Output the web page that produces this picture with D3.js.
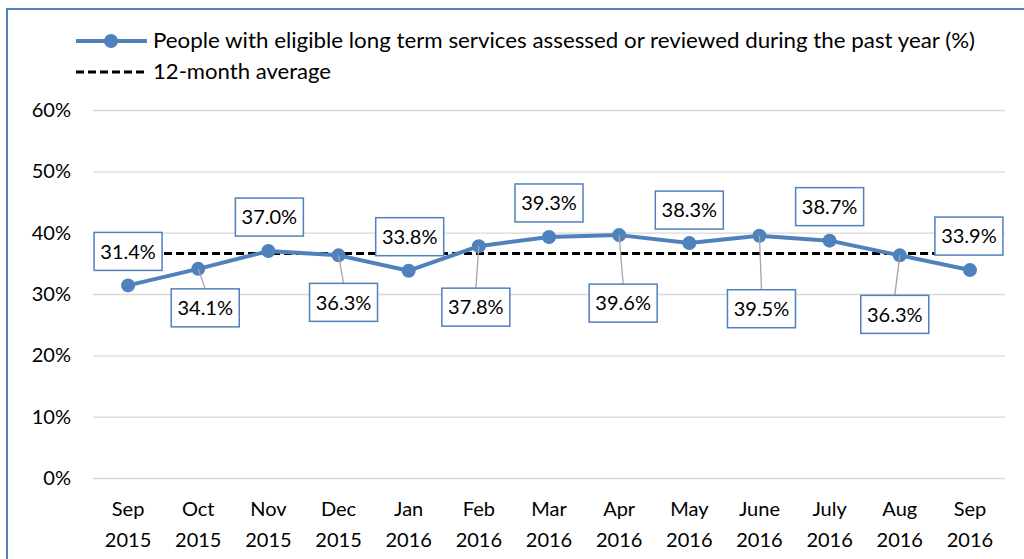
<!DOCTYPE html>
<html>
<head>
<meta charset="utf-8">
<script src="https://cdn.jsdelivr.net/npm/d3@7"></script>
<style>
  body { margin: 0; background: #fff; }
  svg text { font-family: Lato, "Open Sans", sans-serif; fill: #000; }
</style>
</head>
<body>
<script>
var months = ["Sep", "Oct", "Nov", "Dec", "Jan", "Feb", "Mar", "Apr", "May", "June", "July", "Aug", "Sep"];
var years = ["2015", "2015", "2015", "2015", "2016", "2016", "2016", "2016", "2016", "2016", "2016", "2016", "2016"];
var values = [31.4, 34.1, 37.0, 36.3, 33.8, 37.8, 39.3, 39.6, 38.3, 39.5, 38.7, 36.3, 33.9];
var average = 36.6;
var yTicks = [0, 10, 20, 30, 40, 50, 60];
var seriesName = "People with eligible long term services assessed or reviewed during the past year (%)";
var avgName = "12-month average";

// where each data label box sits relative to its point (layout only)
var labelOffset = [[0, -34], [7, 39], [1, -34], [5, 47], [1, -34], [-3, 61], [0, -34],
                   [4, 68], [0, -33], [2, 73], [0, -34], [-5, 59], [-1, -34]];

var W = 1024, H = 559;
var blue = "#4f81bd";
var margin = {top: 110, right: 19, bottom: 81, left: 93};

var svg = d3.select("body").append("svg").attr("width", W).attr("height", H);

// chart frame
svg.append("rect")
  .attr("x", 7).attr("y", 9)
  .attr("width", W + 10).attr("height", H + 10)
  .attr("fill", "#fff").attr("stroke", blue).attr("stroke-width", 2);

var width = W - margin.left - margin.right,
    height = H - margin.top - margin.bottom;

var x = d3.scaleBand().domain(d3.range(values.length)).range([0, width]),
    y = d3.scaleLinear().domain([0, 60]).range([height, 0]);

var g = svg.append("g").attr("transform", "translate(" + margin.left + "," + margin.top + ")");

// gridlines
g.append("g")
  .call(d3.axisLeft(y).tickValues(yTicks).tickSize(-width).tickFormat(""))
  .call(function(s) {
    s.select(".domain").remove();
    s.selectAll("line").attr("stroke", "#d9d9d9").attr("stroke-width", 1.3);
  });

// y labels
g.append("g")
  .call(d3.axisLeft(y).tickValues(yTicks).tickSize(0).tickPadding(22).tickFormat(function(d) { return d + "%"; }))
  .call(function(s) {
    s.select(".domain").remove();
    s.selectAll("text").style("font-size", "20px");
  });

// x labels
var xAxis = g.append("g")
  .attr("transform", "translate(0," + height + ")")
  .call(d3.axisBottom(x).tickSize(0).tickFormat(""));
xAxis.select(".domain").remove();
xAxis.selectAll(".tick").each(function(i) {
  var t = d3.select(this).append("text")
    .attr("text-anchor", "middle")
    .style("font-size", "20px");
  t.append("tspan").attr("x", 0).attr("y", 38).text(months[i]);
  t.append("tspan").attr("x", 0).attr("y", 69).text(years[i]);
});

var cx = function(i) { return x(i) + x.bandwidth() / 2; };

// 12-month average
g.append("line")
  .attr("x1", cx(0)).attr("x2", cx(values.length - 1))
  .attr("y1", y(average)).attr("y2", y(average))
  .attr("stroke", "#000").attr("stroke-width", 3)
  .attr("stroke-dasharray", "8,4");

// series line
var line = d3.line().x(function(d, i) { return cx(i); }).y(function(d) { return y(d); });
g.append("path")
  .datum(values)
  .attr("d", line)
  .attr("fill", "none").attr("stroke", blue).attr("stroke-width", 4)
  .attr("stroke-linejoin", "round");

g.selectAll(".dot")
  .data(values)
  .enter().append("circle")
  .attr("class", "dot")
  .attr("cx", function(d, i) { return cx(i); })
  .attr("cy", function(d) { return y(d); })
  .attr("r", 7)
  .attr("fill", blue);

// data labels with leader lines
var bw = 68, bh = 38;
var labels = g.selectAll(".lbl")
  .data(values)
  .enter().append("g")
  .attr("class", "lbl")
  .attr("transform", function(d, i) {
    return "translate(" + (cx(i) + labelOffset[i][0]) + "," + (y(d) + labelOffset[i][1]) + ")";
  });

labels.each(function(d, i) {
  var off = labelOffset[i];
  if (off[1] > bh / 2 + 14) {
    d3.select(this).append("line")
      .attr("x1", -off[0]).attr("y1", -off[1])
      .attr("x2", 0).attr("y2", -bh / 2)
      .attr("stroke", "#a6a6a6").attr("stroke-width", 1.3);
  }
});

labels.append("rect")
  .attr("x", -bw / 2).attr("y", -bh / 2)
  .attr("width", bw).attr("height", bh)
  .attr("fill", "#fff").attr("stroke", blue).attr("stroke-width", 1.5);

labels.append("text")
  .attr("text-anchor", "middle")
  .attr("dy", "0.36em")
  .style("font-size", "20px")
  .text(function(d) { return d3.format(".1f")(d) + "%"; });

// legend
var leg = svg.append("g");
leg.append("line").attr("x1", 76).attr("x2", 147).attr("y1", 41).attr("y2", 41)
  .attr("stroke", blue).attr("stroke-width", 4);
leg.append("circle").attr("cx", 111).attr("cy", 41).attr("r", 7).attr("fill", blue);
leg.append("text").attr("x", 153).attr("y", 41).attr("dy", "0.35em")
  .attr("textLength", 822).attr("lengthAdjust", "spacingAndGlyphs")
  .style("font-size", "21px").text(seriesName);

leg.append("line").attr("x1", 76).attr("x2", 147).attr("y1", 72).attr("y2", 72)
  .attr("stroke", "#000").attr("stroke-width", 3).attr("stroke-dasharray", "8,4");
leg.append("text").attr("x", 153).attr("y", 72).attr("dy", "0.35em")
  .attr("textLength", 178).attr("lengthAdjust", "spacingAndGlyphs")
  .style("font-size", "21px").text(avgName);
</script>
</body>
</html>
